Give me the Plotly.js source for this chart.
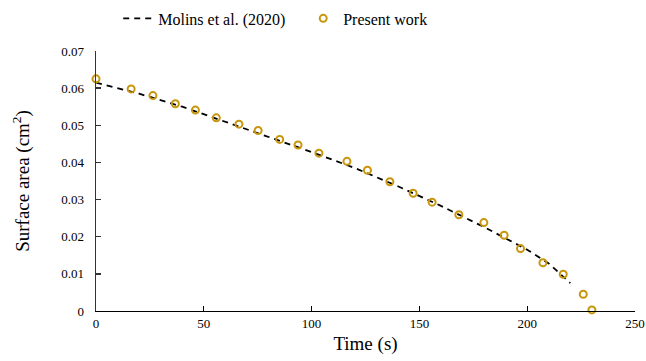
<!DOCTYPE html>
<html>
<head>
<meta charset="utf-8">
<script src="https://cdn.plot.ly/plotly-3.0.1.min.js"></script>
<style>html,body{margin:0;padding:0;background:#fff;}#chart{width:646px;height:361px;}</style>
</head>
<body>
<div id="chart"></div>
<script>
// Molins et al. (2020) reference curve
const molinsTime = [0, 20, 40, 60, 80, 100, 120, 140, 160, 180, 200, 210, 220];
const molinsArea = [0.0615, 0.0585, 0.0550, 0.0510, 0.0468, 0.0428, 0.0385, 0.0336, 0.0283, 0.0226, 0.0165, 0.0128, 0.0075];

// Present work
const presentTime = [0, 16.3, 26.4, 36.8, 46.1, 55.8, 66.3, 75.2, 85.2, 93.7, 103.4, 116.4, 125.9, 136.3, 147.1, 155.9, 168.3, 179.9, 189.3, 196.9, 207.3, 216.7, 226.0, 230.0];
const presentArea = [0.0625, 0.0598, 0.0580, 0.0558, 0.0541, 0.0520, 0.0503, 0.0486, 0.0462, 0.0447, 0.0425, 0.0403, 0.0379, 0.0348, 0.0317, 0.0293, 0.0259, 0.0238, 0.0204, 0.0168, 0.0130, 0.0099, 0.0045, 0.0003];

const xTicks = [0, 50, 100, 150, 200, 250];
const yTicks = [0, 0.01, 0.02, 0.03, 0.04, 0.05, 0.06, 0.07];
const yTickLabels = ['0', '0.01', '0.02', '0.03', '0.04', '0.05', '0.06', '0.07'];

const serif = '"Liberation Serif", "Times New Roman", serif';
const gold = '#c8960c';

const traces = [
  {
    x: molinsTime, y: molinsArea, name: 'Molins et al. (2020)',
    mode: 'lines', type: 'scatter',
    line: {color: '#000', width: 1.8, dash: '6px,5px'}
  },
  {
    x: presentTime, y: presentArea, name: 'Present work',
    mode: 'markers', type: 'scatter', cliponaxis: false,
    marker: {symbol: 'circle-open', size: 7, color: gold, line: {color: gold, width: 2}}
  }
];

const layout = {
  width: 646, height: 361,
  margin: {l: 96, r: 11, t: 51, b: 50, autoexpand: false},
  paper_bgcolor: '#fff', plot_bgcolor: '#fff',
  font: {family: serif, color: '#000', size: 13},
  showlegend: true,
  legend: {orientation: 'h', xref: 'container', yref: 'container',
           x: 0.183, xanchor: 'left', y: 0.996, yanchor: 'top',
           font: {family: serif, size: 16, color: '#000'}, itemwidth: 30,
           entrywidth: 140, bgcolor: 'rgba(0,0,0,0)'},
  xaxis: {
    range: [0, 250], tickvals: xTicks, ticktext: xTicks.map(String),
    showgrid: false, zeroline: false, showline: true, linecolor: '#000', linewidth: 1.3,
    ticks: 'inside', ticklen: 5, tickcolor: '#000', tickwidth: 1.3,
    tickfont: {family: serif, size: 13, color: '#000'},
    title: {text: 'Time (s)', font: {family: serif, size: 19, color: '#000'}, standoff: 6}
  },
  yaxis: {
    range: [0, 0.07], tickvals: yTicks, ticktext: yTickLabels,
    showgrid: false, zeroline: false, showline: true, linecolor: '#333', linewidth: 1.3,
    ticks: 'inside', ticklen: 5, tickcolor: '#333', tickwidth: 1.3, ticklabelstandoff: 8,
    tickfont: {family: serif, size: 13, color: '#000'},
    title: {text: 'Surface area (cm<sup>2</sup>)', font: {family: serif, size: 19, color: '#000'}, standoff: 26}
  }
};

Plotly.newPlot('chart', traces, layout, {displayModeBar: false, staticPlot: true});
</script>
</body>
</html>
